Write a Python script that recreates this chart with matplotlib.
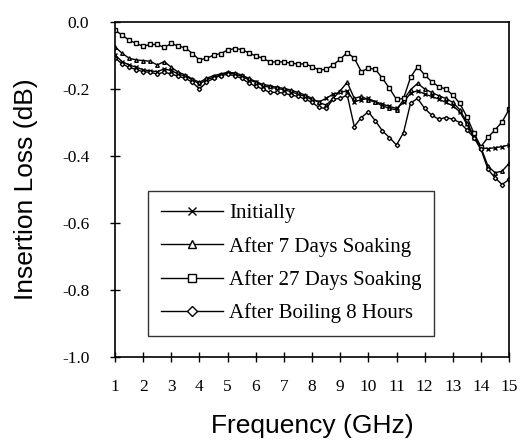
import matplotlib
matplotlib.use("Agg")
import matplotlib.pyplot as plt

# frequency grid (GHz)
freq = [1.0, 1.25, 1.5, 1.75, 2.0, 2.25, 2.5, 2.75, 3.0, 3.25, 3.5, 3.75,
        4.0, 4.25, 4.5, 4.75, 5.0, 5.25, 5.5, 5.75, 6.0, 6.25, 6.5, 6.75,
        7.0, 7.25, 7.5, 7.75, 8.0, 8.25, 8.5, 8.75, 9.0, 9.25, 9.5, 9.75,
        10.0, 10.25, 10.5, 10.75, 11.0, 11.25, 11.5, 11.75, 12.0, 12.25,
        12.5, 12.75, 13.0, 13.25, 13.5, 13.75, 14.0, 14.25, 14.5, 14.75, 15.0]

# insertion loss (dB)
initially = [-0.098, -0.118, -0.128, -0.135, -0.142, -0.146, -0.148, -0.140,
             -0.145, -0.155, -0.162, -0.172, -0.185, -0.172, -0.165, -0.158,
             -0.152, -0.155, -0.162, -0.172, -0.180, -0.190, -0.195, -0.198,
             -0.202, -0.208, -0.215, -0.222, -0.232, -0.238, -0.228, -0.215,
             -0.210, -0.205, -0.238, -0.232, -0.228, -0.238, -0.245, -0.252,
             -0.258, -0.240, -0.212, -0.205, -0.215, -0.222, -0.230, -0.240,
             -0.250, -0.268, -0.305, -0.345, -0.375, -0.378, -0.375, -0.372,
             -0.367]

soak7 = [-0.074, -0.093, -0.108, -0.113, -0.115, -0.117, -0.128, -0.118,
         -0.135, -0.150, -0.158, -0.170, -0.180, -0.168, -0.160, -0.155,
         -0.150, -0.152, -0.158, -0.168, -0.178, -0.186, -0.190, -0.195,
         -0.198, -0.203, -0.210, -0.218, -0.228, -0.240, -0.248, -0.228,
         -0.205, -0.180, -0.228, -0.222, -0.232, -0.240, -0.250, -0.258,
         -0.262, -0.232, -0.202, -0.183, -0.200, -0.210, -0.220, -0.228,
         -0.240, -0.262, -0.300, -0.340, -0.375, -0.430, -0.450, -0.445,
         -0.422]

soak27 = [-0.024, -0.039, -0.054, -0.064, -0.072, -0.067, -0.067, -0.076,
          -0.064, -0.072, -0.077, -0.094, -0.113, -0.108, -0.099, -0.094,
          -0.084, -0.079, -0.082, -0.092, -0.101, -0.108, -0.119, -0.119,
          -0.119, -0.123, -0.125, -0.125, -0.133, -0.143, -0.141, -0.128,
          -0.111, -0.091, -0.108, -0.148, -0.138, -0.141, -0.168, -0.198,
          -0.231, -0.228, -0.165, -0.133, -0.158, -0.178, -0.193, -0.200,
          -0.218, -0.243, -0.283, -0.332, -0.372, -0.344, -0.322, -0.298,
          -0.261]

boiling = [-0.107, -0.125, -0.135, -0.142, -0.148, -0.150, -0.155, -0.150,
           -0.155, -0.162, -0.168, -0.180, -0.200, -0.180, -0.168, -0.160,
           -0.156, -0.160, -0.168, -0.182, -0.192, -0.200, -0.210, -0.210,
           -0.212, -0.218, -0.222, -0.230, -0.240, -0.255, -0.258, -0.230,
           -0.228, -0.218, -0.312, -0.285, -0.268, -0.295, -0.325, -0.345,
           -0.367, -0.330, -0.242, -0.228, -0.258, -0.278, -0.290, -0.285,
           -0.290, -0.300, -0.322, -0.345, -0.380, -0.440, -0.465, -0.485,
           -0.470]

labels = ["Initially", "After 7 Days Soaking", "After 27 Days Soaking",
          "After Boiling 8 Hours"]
markers = ["x", "^", "s", "D"]
series = [initially, soak7, soak27, boiling]

serif = "Liberation Serif"
sans = "Liberation Sans"

fig = plt.figure(figsize=(5.22, 4.47), dpi=100)
ax = fig.add_axes([0.2203, 0.2013, 0.755, 0.7494])

for s, m, lab in zip(series, markers, labels):
    ax.plot(freq, s, color="black", lw=1.0, marker=m, ms=2.6 if m != "D" else 2.2,
            mfc="white", mec="black", mew=1.0, label=lab)

ax.set_xlim(1, 15)
ax.set_ylim(-1.0, 0.0)
ax.set_xticks(range(1, 16))
ax.set_yticks([0.0, -0.2, -0.4, -0.6, -0.8, -1.0])
ax.set_yticklabels(["0.0", "-0.2", "-0.4", "-0.6", "-0.8", "-1.0"])
ax.tick_params(direction="inout", length=7, width=1, top=False, right=False,
               labelsize=12.5)
ax.tick_params(axis="x", pad=12)
ax.tick_params(axis="y", pad=15)
for t in ax.get_xticklabels() + ax.get_yticklabels():
    t.set_fontfamily(serif)
for sp in ax.spines.values():
    sp.set_linewidth(1.2)

ax.set_xlabel("Frequency (GHz)", fontfamily=sans, fontsize=19, labelpad=14)
ax.set_ylabel("Insertion Loss (dB)", fontfamily=sans, fontsize=19, labelpad=17)

leg = ax.legend(loc="lower left", bbox_to_anchor=(0.084, 0.063),
                prop={"family": serif, "size": 15}, frameon=True, fancybox=False,
                edgecolor="black", handlelength=3.0, labelspacing=0.65,
                markerscale=2.4, borderpad=0.6, handletextpad=0.3,
                borderaxespad=0)
leg.get_frame().set_linewidth(1.0)

fig.savefig("out.png", dpi=100)
